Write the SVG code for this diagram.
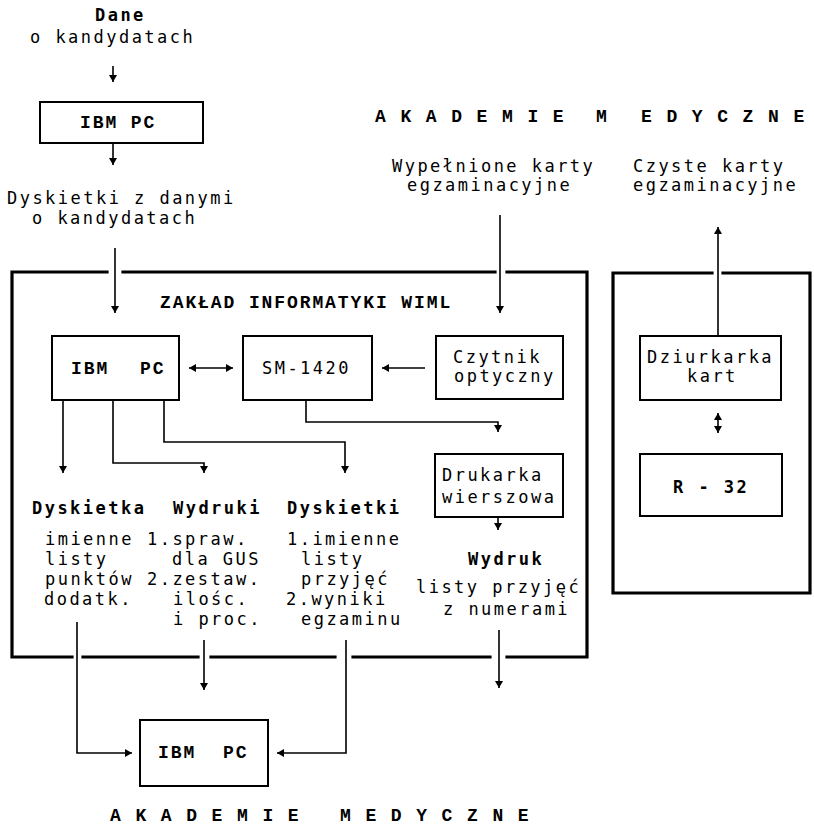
<svg xmlns="http://www.w3.org/2000/svg" width="814" height="825" viewBox="0 0 814 825">
<style>
text{font-family:"DejaVu Sans Mono","Liberation Mono",monospace;font-size:17px;letter-spacing:2.47px;fill:#000}
.b{font-weight:bold}
.s{font-family:"Liberation Mono","DejaVu Sans Mono",monospace;font-size:18px;letter-spacing:1.9px;font-weight:bold}
.box{fill:none;stroke:#000;stroke-width:2}
.frame{fill:none;stroke:#000;stroke-width:3.2;stroke-linecap:square}
.c{fill:none;stroke:#000;stroke-width:1.6}
.a{marker-end:url(#ah)}
.d{marker-start:url(#ah);marker-end:url(#ah)}
</style>
<defs>
<marker id="ah" markerUnits="userSpaceOnUse" markerWidth="9" markerHeight="9" refX="7" refY="4" orient="auto-start-reverse">
<path d="M0,0 L7,4 L0,8 z" fill="#000"/>
</marker>
</defs>
<rect width="814" height="825" fill="#fff"/>

<g id="frames">
<path class="frame" d="M107,272 H12 V657 H72 M83,657 H198 M211,657 H335 M353,657 H490 M507,657 H587 V272 H507 M495,272 H123"/>
<path class="frame" d="M712,273 H613 V593 H810 V273 H723"/>
</g>

<g id="labels">
<text class="b" x="95" y="21">Dane</text>
<text x="30" y="43">o kandydatach</text>
<text x="7" y="204">Dyskietki z danymi</text>
<text x="32" y="224">o kandydatach</text>
<text class="s" x="375" y="122">A K A D E M I E</text>
<text class="s" x="596" y="122">M</text>
<text class="s" x="641" y="122">E D Y C Z N E</text>
<text x="392" y="172">Wypełnione karty</text>
<text x="407" y="191">egzaminacyjne</text>
<text x="633" y="172">Czyste karty</text>
<text x="633" y="191">egzaminacyjne</text>
<text class="s" x="160" y="308">ZAKŁAD INFORMATYKI WIML</text>
<text class="b" x="32" y="514">Dyskietka</text>
<text class="b" x="173" y="514">Wydruki</text>
<text class="b" x="287" y="514">Dyskietki</text>
<text x="45" y="545">imienne</text>
<text x="45" y="565">listy</text>
<text x="45" y="585">punktów</text>
<text x="44" y="605">dodatk.</text>
<text x="147" y="545">1.spraw.</text>
<text x="172" y="565">dla GUS</text>
<text x="147" y="585">2.zestaw.</text>
<text x="173" y="605">ilośc.</text>
<text x="173" y="625">i proc.</text>
<text x="287" y="545">1.imienne</text>
<text x="301" y="565">listy</text>
<text x="301" y="585">przyjęć</text>
<text x="286" y="605">2.wyniki</text>
<text x="301" y="625">egzaminu</text>
<text class="b" x="468" y="565">Wydruk</text>
<text x="416" y="593">listy przyjęć</text>
<text x="443" y="615">z numerami</text>
<text class="s" x="110" y="821">A K A D E M I E</text>
<text class="s" x="340" y="821">M E D Y C Z N E</text>
</g>

<g id="ibm-top">
<rect class="box" x="40" y="102" width="163" height="41"/>
<text class="s" x="80" y="128">IBM PC</text>
</g>
<g id="ibm-main">
<rect class="box" x="52" y="336" width="127" height="64"/>
<text class="s" x="71" y="374">IBM</text>
<text class="s" x="140" y="374">PC</text>
</g>
<g id="sm1420">
<rect class="box" x="243" y="336" width="129" height="64"/>
<text x="262" y="374">SM-1420</text>
</g>
<g id="czytnik">
<rect class="box" x="436" y="336" width="127" height="63"/>
<text x="453" y="363">Czytnik</text>
<text x="454" y="382">optyczny</text>
</g>
<g id="drukarka">
<rect class="box" x="435" y="454" width="128" height="63"/>
<text x="442" y="481">Drukarka</text>
<text x="442" y="503">wierszowa</text>
</g>
<g id="dziurkarka">
<rect class="box" x="640" y="336" width="141" height="64"/>
<text x="647" y="363">Dziurkarka</text>
<text x="687" y="382">kart</text>
</g>
<g id="r32">
<rect class="box" x="640" y="454" width="142" height="62"/>
<text class="b" x="673" y="493">R - 32</text>
</g>
<g id="ibm-bottom">
<rect class="box" x="140" y="720" width="128" height="66"/>
<text class="s" x="158" y="758">IBM</text>
<text class="s" x="223" y="758">PC</text>
</g>

<g id="connectors">
<path class="c a" d="M113,66 V82"/>
<path class="c a" d="M113,143 V165"/>
<path class="c a" d="M115,248 V313"/>
<path class="c a" d="M500,215 V313"/>
<path class="c a" d="M425,368 H382"/>
<path class="c d" d="M189,368 H233"/>
<path class="c a" d="M306,400 V422 H498 V432"/>
<path class="c a" d="M498,517 V530"/>
<path class="c a" d="M63,400 V473"/>
<path class="c a" d="M113,400 V463 H204 V473"/>
<path class="c a" d="M164,400 V442 H345 V473"/>
<path class="c a" d="M77,622 V753 H132"/>
<path class="c a" d="M204,640 V690"/>
<path class="c a" d="M346,640 V753 H277"/>
<path class="c a" d="M499,630 V688"/>
<path class="c a" d="M718,336 V227"/>
<path class="c d" d="M718,413 V433"/>
</g>
</svg>
